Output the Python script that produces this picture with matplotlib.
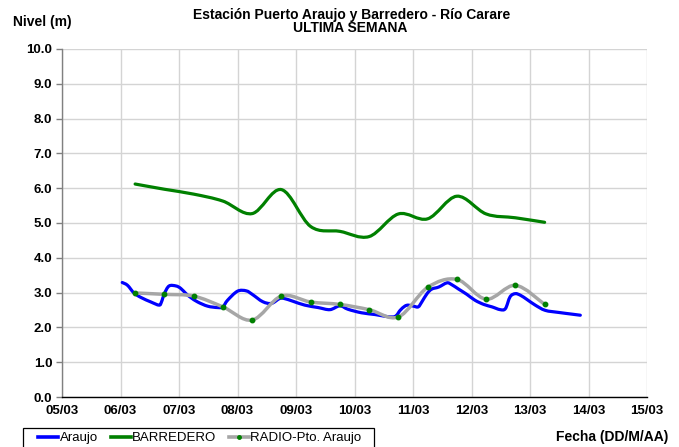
import matplotlib
matplotlib.use("Agg")
import matplotlib.pyplot as plt
import numpy as np
from matplotlib.path import Path
from matplotlib.patches import PathPatch, Rectangle
from matplotlib.lines import Line2D

# ---------------- data (x = days since 05/03 00:00) ----------------
tick_labels = ["05/03", "06/03", "07/03", "08/03", "09/03", "10/03",
               "11/03", "12/03", "13/03", "14/03", "15/03"]

araujo_x = [1.03, 1.12, 1.23, 1.35, 1.52, 1.66, 1.70, 1.75, 1.83, 1.95,
            2.03, 2.12, 2.20, 2.32, 2.49, 2.66, 2.75, 2.83, 3.00, 3.15,
            3.26, 3.43, 3.58, 3.72, 3.80, 3.95, 4.15, 4.38, 4.58, 4.75,
            4.89, 5.12, 5.35, 5.52, 5.66, 5.72, 5.78, 5.86, 5.92, 6.01,
            6.09, 6.15, 6.24, 6.32, 6.44, 6.58, 6.66, 6.78, 6.92, 7.06,
            7.21, 7.35, 7.49, 7.58, 7.66, 7.75, 7.84, 7.95, 8.09, 8.26,
            8.49, 8.72, 8.86]
araujo_y = [3.29, 3.21, 2.99, 2.86, 2.73, 2.64, 2.73, 2.97, 3.19, 3.19,
            3.12, 2.97, 2.86, 2.73, 2.61, 2.57, 2.59, 2.78, 3.04, 3.05,
            2.94, 2.74, 2.69, 2.83, 2.83, 2.75, 2.64, 2.57, 2.51, 2.62,
            2.52, 2.42, 2.37, 2.32, 2.30, 2.35, 2.49, 2.61, 2.64, 2.61,
            2.59, 2.73, 2.97, 3.10, 3.16, 3.28, 3.23, 3.10, 2.95, 2.78,
            2.66, 2.59, 2.51, 2.54, 2.88, 2.97, 2.92, 2.80, 2.64, 2.49,
            2.43, 2.38, 2.35]

barredero_x = [1.25, 1.75, 2.25, 2.75, 3.25, 3.75, 4.25, 4.75, 5.25,
               5.75, 6.25, 6.75, 7.25, 7.75, 8.25]
barredero_y = [6.12, 5.97, 5.83, 5.63, 5.27, 5.96, 4.90, 4.76, 4.61,
               5.26, 5.12, 5.77, 5.26, 5.15, 5.02]

radio_x = [1.25, 1.75, 2.25, 2.75, 3.25, 3.75, 4.25, 4.75, 5.25,
           5.75, 6.25, 6.75, 7.25, 7.75, 8.25]
radio_y = [2.99, 2.95, 2.90, 2.59, 2.21, 2.90, 2.73, 2.66, 2.51,
           2.30, 3.15, 3.38, 2.81, 3.21, 2.66]

# ---------------- figure ----------------
W, H = 679, 447
fig = plt.figure(figsize=(W / 100, H / 100), dpi=100)
fig.patch.set_facecolor("white")

plt.rcParams["font.family"] = ["Liberation Sans", "DejaVu Sans"]

L, R, T, B = 62, 647, 49, 397
ax = fig.add_axes([L / W, (H - B) / H, (R - L) / W, (B - T) / H])
ax.set_xlim(0, 10)
ax.set_ylim(0, 10)


def smooth_path(xs, ys, t=1 / 6):
    """Excel-like smoothed line as cubic Bezier path through data points."""
    xs = np.asarray(xs, float)
    ys = np.asarray(ys, float)
    n = len(xs)
    verts = [(xs[0], ys[0])]
    codes = [Path.MOVETO]
    for i in range(n - 1):
        p0 = (xs[max(i - 1, 0)], ys[max(i - 1, 0)])
        p1 = (xs[i], ys[i])
        p2 = (xs[i + 1], ys[i + 1])
        p3 = (xs[min(i + 2, n - 1)], ys[min(i + 2, n - 1)])
        c1 = (p1[0] + (p2[0] - p0[0]) * t, p1[1] + (p2[1] - p0[1]) * t)
        c2 = (p2[0] - (p3[0] - p1[0]) * t, p2[1] - (p3[1] - p1[1]) * t)
        verts += [c1, c2, p2]
        codes += [Path.CURVE4] * 3
    return Path(verts, codes)


def draw_smooth(xs, ys, color, lw, z):
    patch = PathPatch(smooth_path(xs, ys), facecolor="none", edgecolor=color,
                      lw=lw, zorder=z, capstyle="round", joinstyle="round")
    ax.add_patch(patch)


BLUE = "#0000FF"
GREEN = "#008000"
GRAY = "#A6A6A6"

draw_smooth(barredero_x, barredero_y, GREEN, 2.3, 3)
draw_smooth(araujo_x, araujo_y, BLUE, 2.3, 3)
draw_smooth(radio_x, radio_y, GRAY, 2.5, 4)
ax.plot(radio_x, radio_y, linestyle="none", marker="o", ms=3.2,
        color=GREEN, zorder=5)

# grid & axes
ax.set_xticks(range(11))
ax.set_xticklabels(tick_labels)
ax.set_yticks(np.arange(0, 10.01, 1.0))
ax.set_yticklabels([f"{v:.1f}" for v in np.arange(0, 10.01, 1.0)])
ax.grid(True, color="#D4D4D4", lw=1.0, zorder=0)
ax.set_axisbelow(True)
for s in ["top", "right"]:
    ax.spines[s].set_visible(False)
ax.spines["left"].set_color("#808080")
ax.spines["left"].set_linewidth(1.0)
ax.spines["bottom"].set_color("#000000")
ax.spines["bottom"].set_linewidth(1.0)
ax.tick_params(axis="y", length=4, width=1, color="#808080", pad=3,
               labelsize=9.5)
ax.tick_params(axis="x", length=0, pad=6, labelsize=9.5)
for lab in ax.get_xticklabels() + ax.get_yticklabels():
    lab.set_fontweight("bold")

# texts
fig.text(352 / W, 1 - 19 / H, "Estación Puerto Araujo y Barredero - Río Carare",
         ha="center", va="baseline", fontsize=10, fontweight="bold")
fig.text(350 / W, 1 - 32 / H, "ULTIMA SEMANA",
         ha="center", va="baseline", fontsize=10, fontweight="bold")
fig.text(13 / W, 1 - 22 / H, "Nivel (m)", ha="left", va="center",
         fontsize=10, fontweight="bold")
fig.text(668 / W, 1 - 437 / H, "Fecha (DD/M/AA)", ha="right", va="center",
         fontsize=10, fontweight="bold")

# legend box
box = Rectangle((23 / W, -5 / H), (374 - 23) / W, (447 - 428 + 5) / H,
                transform=fig.transFigure, facecolor="white",
                edgecolor="#000000", lw=0.9, zorder=1)
fig.patches.append(box)

handles = [
    Line2D([], [], color=BLUE, lw=2.6),
    Line2D([], [], color=GREEN, lw=2.6),
    Line2D([], [], color=GRAY, lw=2.6, marker="o", ms=2.5,
           markerfacecolor=GREEN, markeredgecolor=GREEN),
]
labels = ["Araujo", "BARREDERO", "RADIO-Pto. Araujo"]
leg = fig.legend(handles, labels, loc="center",
                 bbox_to_anchor=(200 / W, 1 - 438 / H),
                 ncol=3, fontsize=9.5, frameon=False,
                 handlelength=1.5, handletextpad=0.1,
                 borderpad=0.0, columnspacing=1.0, borderaxespad=0)
leg.set_zorder(2)

fig.savefig("out.png", dpi=100, facecolor="white")
